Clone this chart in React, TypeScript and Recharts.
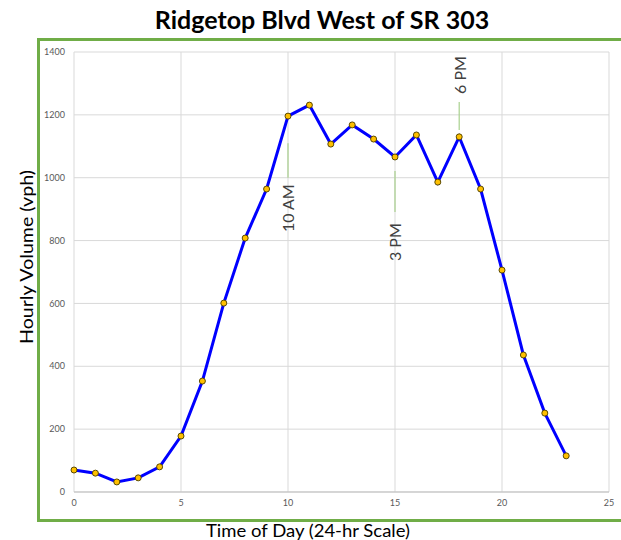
import {
  CartesianGrid,
  Line,
  LineChart,
  ReferenceDot,
  ReferenceLine,
  XAxis,
  YAxis,
} from "recharts";

const hours = [0, 1, 2, 3, 4, 5, 6, 7, 8, 9, 10, 11, 12, 13, 14, 15, 16, 17, 18, 19, 20, 21, 22, 23];
const volumes = [70, 60, 32, 45, 80, 178, 353, 601, 808, 964, 1196, 1231, 1107, 1168, 1123, 1066, 1136, 986, 1130, 964, 706, 436, 251, 115];

const xTicks = [0, 5, 10, 15, 20, 25];
const yTicks = [0, 200, 400, 600, 800, 1000, 1200, 1400];

// peak-hour callouts: text centre and leader line ends, in data units
const calloutLabels = ["10 AM", "3 PM", "6 PM"];
const calloutHours = [10, 15, 18];
const calloutTextY = [903, 795, 1327];
const calloutLineFrom = [1000, 891, 1152];
const calloutLineTo = [1110, 1021, 1241];

const data = hours.map((h, i) => ({ hour: h, volume: volumes[i] }));

const FONT = "Lato, 'Liberation Sans', sans-serif";

function RotatedText({ viewBox, value }: any) {
  const cx = viewBox.x + viewBox.width / 2;
  const cy = viewBox.y + viewBox.height / 2;
  return (
    <text
      x={cx}
      y={cy}
      transform={`rotate(-90 ${cx} ${cy})`}
      textAnchor="middle"
      dominantBaseline="central"
      fontFamily={FONT}
      fontSize={16}
      fill="#404040"
    >
      {value}
    </text>
  );
}

export default function App() {
  return (
    <div
      style={{
        position: "absolute",
        left: 0,
        top: 0,
        width: 621,
        height: 540,
        background: "#fff",
        overflow: "hidden",
        fontFamily: FONT,
      }}
    >
      <div
        style={{
          position: "absolute",
          left: 0,
          width: 644,
          top: 4,
          textAlign: "center",
          fontWeight: 700,
          fontSize: 25,
          color: "#000",
        }}
      >
        Ridgetop Blvd West of SR 303
      </div>
      <div
        style={{
          position: "absolute",
          left: 37,
          top: 38,
          width: 600,
          height: 478,
          border: "3px solid #70ad47",
        }}
      />
      <div style={{ position: "absolute", left: 0, top: 0 }}>
        <LineChart
          width={621}
          height={540}
          data={data}
          margin={{ top: 52, right: 12, bottom: 18, left: 0 }}
        >
          <CartesianGrid stroke="#d9d9d9" />
          <XAxis
            dataKey="hour"
            type="number"
            domain={[0, 25]}
            ticks={xTicks}
            height={30}
            stroke="#bfbfbf"
            tickLine={false}
            tickSize={6}
            tickMargin={2}
            tick={{ fontSize: 9, fill: "#595959", fontFamily: FONT }}
          />
          <YAxis
            type="number"
            domain={[0, 1400]}
            ticks={yTicks}
            width={74}
            axisLine={false}
            tickLine={false}
            tickSize={6}
            tickMargin={3}
            tick={{ fontSize: 9, fill: "#595959", fontFamily: FONT }}
          />
          {calloutLabels.map((label, i) => (
            <ReferenceLine
              key={`l${label}`}
              segment={[
                { x: calloutHours[i], y: calloutLineFrom[i] },
                { x: calloutHours[i], y: calloutLineTo[i] },
              ]}
              stroke="#a9d18e"
              strokeWidth={1.2}
            />
          ))}
          {calloutLabels.map((label, i) => (
            <ReferenceDot
              key={`t${label}`}
              x={calloutHours[i]}
              y={calloutTextY[i]}
              r={0}
              stroke="none"
              label={<RotatedText value={label} />}
            />
          ))}
          <Line
            type="linear"
            dataKey="volume"
            stroke="#0000ff"
            strokeWidth={3}
            dot={{ r: 3, fill: "#ffc000", stroke: "#5a4a00", strokeWidth: 1 }}
            isAnimationActive={false}
          />
        </LineChart>
      </div>
      <svg
        width={621}
        height={540}
        style={{ position: "absolute", left: 0, top: 0, pointerEvents: "none" }}
      >
        <text
          x={26}
          y={257}
          transform="rotate(-90 26 257)"
          textAnchor="middle"
          dominantBaseline="central"
          fontFamily={FONT}
          fontSize={18}
          textLength={174}
          lengthAdjust="spacingAndGlyphs"
          fill="#000"
        >
          Hourly Volume (vph)
        </text>
        <text
          x={308}
          y={530}
          textAnchor="middle"
          dominantBaseline="central"
          fontFamily={FONT}
          fontSize={18}
          textLength={204}
          lengthAdjust="spacingAndGlyphs"
          fill="#000"
        >
          Time of Day (24-hr Scale)
        </text>
      </svg>
    </div>
  );
}
